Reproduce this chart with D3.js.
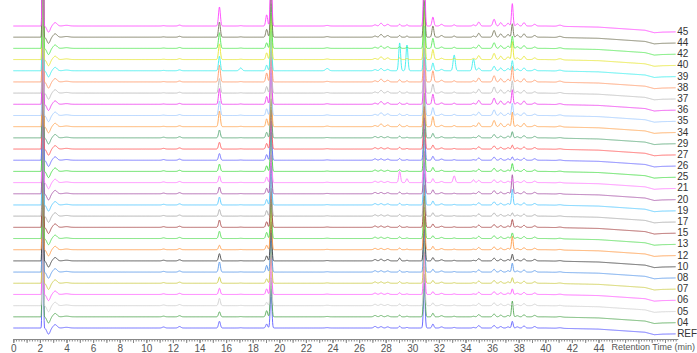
<!DOCTYPE html>
<html>
<head>
<meta charset="utf-8">
<script src="https://cdn.jsdelivr.net/npm/d3@7"></script>
<style>
  html, body { margin: 0; padding: 0; background: #fff; }
  svg { display: block; font-family: 'Liberation Sans', Arial, sans-serif; }
</style>
</head>
<body>
<div id="chart"></div>
<script>
// ── Data ──
// samples, top to bottom
var sampleLabels = ['45', '44', '42', '40', '39', '38', '37', '36', '35', '34', '29', '27', '26', '25',
  '21', '20', '19', '17', '15', '13', '12', '10', '08', '07', '06', '05', '04', 'REF'];
var sampleColors = ['#ff44ff', '#76765a', '#55e855', '#e6e633', '#3ceeee', '#ff9a6a', '#bdbdbd', '#ee3dee',
  '#9fcaff', '#ffa552', '#5aa878', '#ff5a5a', '#6a6aff', '#44dd44', '#ff7aff', '#a856a8', '#55c8ff',
  '#aaaaaa', '#a84848', '#55dd55', '#ff9a45', '#444444', '#5a98ea', '#cccc48', '#ff5aff', '#cfcfcf',
  '#55a855', '#5a5aff'];

// solvent front, identical in every run: time (min), height (mAU), sigma (min)
var frontTimes = [2.22, 2.65, 3.15, 4.0];
var frontHeights = [400, -5.5, 3, 0.6];
var frontWidths = [0.035, 0.12, 0.14, 0.2];

// sample peaks: retention time (min) and sigma (min)
var peakTimes = [11.3, 12.5, 15.5, 17.1, 19.05, 19.38, 23.6, 27.2, 27.65, 28.15, 29.05, 29.6, 30.9,
  31.55, 32.2, 33.15, 34.6, 35.0, 36.15, 36.65, 37.2, 37.52, 37.9, 38.4, 39.2, 41.1];
var peakWidths = [0.1, 0.1, 0.07, 0.1, 0.07, 0.06, 0.12, 0.1, 0.1, 0.1, 0.07, 0.07, 0.06,
  0.07, 0.1, 0.08, 0.08, 0.09, 0.09, 0.09, 0.09, 0.06, 0.09, 0.09, 0.1, 0.15];

// peak heights (mAU), one row per sample in sampleLabels order
var peakHeights = [
  [0.3, 0.8, 17, 0.3, 10, 60, 0.5, 1, 2.5, 1.5, 1.5, 1, 60, 8, 1.5, 1, 1, 3.5, 6, 3, 2.5, 20, 2, 3, 1.5, 1],
  [0.3, 0.8, 13.5, 0.3, 7, 45, 0.5, 1, 2.5, 1.5, 1.5, 1, 45, 10, 1.5, 1, 1, 3.5, 6, 3, 2.5, 12, 2, 3, 1.5, 1],
  [0.3, 0.8, 14, 0.3, 5, 40, 0.5, 1, 2, 1.5, 1.5, 1, 42, 9, 1.2, 1, 1, 3, 5, 2.5, 2, 11, 1.5, 2.5, 1.2, 0.8],
  [0.3, 0.8, 14, 0.3, 6, 40, 0.5, 1, 2.5, 1.5, 1.5, 1, 44, 9, 1.2, 1, 1, 3.5, 5.5, 3, 2.5, 16, 1.5, 3, 1.5, 1],
  [0.3, 0.8, 13, 2.5, 5, 38, 2, 1, 2, 1.2, 25, 23, 40, 7, 1.2, 14, 10.5, 2.5, 4, 2.5, 2, 9, 1.5, 2.5, 1.2, 0.8],
  [0.3, 0.8, 15, 0.3, 8, 45, 0.5, 1, 2.5, 1.5, 2, 1, 45, 10, 1.5, 1, 1, 3.5, 5.5, 3, 2.5, 14, 1.5, 3, 1.5, 1],
  [0.3, 0.8, 13, 0.3, 6, 38, 0.5, 1, 2.5, 1.5, 1.5, 1, 40, 8, 1.2, 1, 1, 3.5, 5.5, 3, 2.5, 11, 1.5, 2.5, 1.2, 0.8],
  [0.3, 0.8, 14, 0.3, 7, 42, 0.5, 1, 2.5, 1.5, 1.5, 1, 42, 9, 1.2, 1, 1, 3.5, 5.5, 3, 2.5, 13, 1.5, 3, 1.2, 0.8],
  [0.3, 0.8, 13, 0.3, 6, 38, 0.5, 1, 2.5, 1.5, 1.5, 1, 40, 7, 1.2, 1, 1, 3, 5, 2.5, 2, 11, 1.5, 2.5, 1.2, 0.8],
  [0.3, 0.8, 14, 0.3, 7, 42, 0.5, 1, 2.5, 1.5, 2, 1, 42, 9, 1.2, 1, 1, 3.5, 5.5, 3, 2.5, 13, 1.5, 3, 1.2, 0.8],
  [0.6, 1, 7, 0.2, 5, 35, 0.3, 1.2, 1.2, 1, 1.5, 0.5, 40, 4, 1, 0.5, 0.5, 2, 3, 1.5, 1.5, 5.5, 1, 2, 1.3, 0.5],
  [0.6, 1, 6, 0.2, 5, 35, 0.3, 1.2, 1.2, 1, 1.5, 0.5, 38, 3.5, 1, 0.5, 0.5, 2, 2.8, 1.5, 1.2, 3.5, 1, 1.8, 1.3, 0.5],
  [0.6, 1, 6, 0.2, 5, 35, 0.3, 1.2, 1.2, 1, 1.5, 0.5, 38, 3.5, 1, 0.5, 0.5, 2, 2.8, 1.5, 1.2, 3, 1, 1.8, 1.3, 0.5],
  [0.6, 1, 6.5, 0.2, 5, 35, 0.3, 1.2, 1.2, 1, 1.5, 0.5, 38, 3.5, 1, 0.5, 0.5, 2, 2.8, 1.5, 1.2, 7, 1, 1.8, 1.3, 0.5],
  [0.6, 1, 6, 0.2, 5, 35, 0.3, 1.2, 1.2, 1, 10, 3.5, 38, 3.5, 1, 6, 2.5, 2, 2.5, 1.5, 1.2, 3, 1, 1.8, 1.3, 0.5],
  [0.6, 1, 6, 0.2, 5, 35, 0.3, 1.2, 1.2, 1, 1.5, 0.5, 38, 3.5, 1, 0.5, 0.5, 2, 2.8, 1.5, 1.2, 17, 1, 1.8, 1.3, 0.5],
  [0.6, 1, 7, 0.2, 5, 35, 0.3, 1.2, 1.2, 1, 1.5, 0.5, 38, 3.5, 1, 0.5, 0.5, 2, 2.8, 1.5, 1.2, 14, 1, 1.8, 1.3, 0.5],
  [0.6, 1, 6, 0.2, 5, 35, 0.3, 1.2, 1.2, 1, 1.5, 0.5, 38, 3, 1, 0.5, 0.5, 2, 2.8, 1.5, 1.2, 3, 1, 1.8, 1.3, 0.5],
  [0.6, 1, 6.5, 0.2, 5, 35, 0.3, 1.2, 1.2, 1, 1.5, 0.5, 38, 3, 1, 0.5, 0.5, 2, 2.5, 1.5, 1.2, 7, 1, 1.8, 1.3, 0.5],
  [0.6, 1, 6.5, 0.2, 5.5, 35, 0.3, 1.2, 1.2, 1, 1.5, 0.5, 38, 2.5, 1, 0.5, 0.5, 2, 2.5, 1.5, 1.2, 5, 1, 1.8, 1.3, 0.5],
  [0.6, 1, 4, 0.2, 4, 35, 0.3, 1.2, 1.2, 1, 1.5, 0.5, 38, 3, 1, 0.5, 0.5, 2, 2.5, 1.5, 1.2, 12, 1, 1.8, 1.3, 0.5],
  [0.6, 1, 6.5, 0.2, 4.5, 35, 0.3, 1.2, 1.5, 1.2, 2.5, 0.5, 40, 3, 1, 0.5, 0.5, 2, 2.5, 1.5, 1.2, 6, 1, 1.8, 1.3, 0.5],
  [0.6, 1, 9, 0.2, 6, 35, 0.3, 1.2, 1.2, 1, 1.5, 0.5, 38, 2.5, 1, 0.5, 0.5, 2, 2.5, 1.5, 1.2, 8, 1, 1.8, 1.3, 0.5],
  [0.6, 1, 5.5, 0.2, 4, 35, 0.3, 1.2, 1.2, 1, 1.5, 0.5, 38, 2.5, 1, 0.5, 0.5, 2, 2.5, 1.5, 1.2, 5, 1, 1.8, 1.3, 0.5],
  [0.6, 1, 5.5, 0.2, 5, 35, 0.3, 1.2, 1.2, 1, 1.5, 0.5, 38, 2.5, 1, 0.5, 0.5, 2, 2.5, 1.5, 1.2, 5, 1, 1.8, 1.3, 0.5],
  [0.6, 1, 6.5, 0.2, 3, 30, 0.3, 1.2, 1.2, 1, 1.5, 0.5, 35, 2.5, 1, 0.5, 0.5, 2, 2.5, 1.5, 1.2, 1.5, 1, 1.8, 1.3, 0.5],
  [0.6, 1, 4.5, 0.2, 5.5, 35, 0.3, 1.2, 1.2, 1, 1.5, 0.5, 38, 3.2, 1, 0.5, 0.5, 2, 2.5, 1.5, 1.2, 14, 1, 1.8, 1.3, 0.5],
  [0.9, 1.3, 6, 0.2, 3.5, 35, 0.3, 1.4, 1.2, 1, 1.5, 0.5, 40, 3.5, 1, 0.5, 0.5, 2.2, 2.3, 1.3, 1, 6, 1, 1.8, 1.3, 0.5]
];

// baseline drift at the end of the gradient (mAU)
var driftTimes = [0, 40, 44, 47.5, 48.2, 48.8, 50];
var driftValues = [0, 0, -1, -3.8, -6, -5.5, -5.2];

var xTickLabels = d3.range(0, 45, 2);
var OFFSET_STEP = 10;   // mAU between stacked runs
var RUN_END = 49.8;
var STEP = 0.02;

// ── Layout ──
var W = 697, H = 353;
var AXIS_Y = 339;

var svg = d3.select('#chart').append('svg')
  .attr('width', W).attr('height', H);

var x = d3.scaleLinear().domain([0, 50]).range([13.3, 678.3]);
var y = d3.scaleLinear().domain([0, OFFSET_STEP * (sampleLabels.length - 1)]).range([328, 26]);
var drift = d3.scaleLinear().domain(driftTimes).range(driftValues);

function gauss(t, mu, s) {
  var z = (t - mu) / s;
  return Math.exp(-0.5 * z * z);
}

function signalAt(t, row) {
  var v = drift(t);
  for (var k = 0; k < frontTimes.length; k++) v += frontHeights[k] * gauss(t, frontTimes[k], frontWidths[k]);
  for (var j = 0; j < peakTimes.length; j++) v += row[j] * gauss(t, peakTimes[j], peakWidths[j]);
  return v;
}

var times = d3.range(0, RUN_END + STEP / 2, STEP);

var line = d3.line()
  .x(function (d) { return x(d.t); })
  .y(function (d) { return y(d.v); });

svg.append('clipPath').attr('id', 'plot-clip')
  .append('rect').attr('x', 0).attr('y', 0).attr('width', W).attr('height', AXIS_Y - 2);

var traces = sampleLabels.map(function (label, i) {
  var offset = OFFSET_STEP * (sampleLabels.length - 1 - i);
  var row = peakHeights[i];
  return {
    label: label,
    color: sampleColors[i],
    offset: offset,
    points: times.map(function (t) { return { t: t, v: offset + signalAt(t, row) }; })
  };
});

// draw bottom run first so upper runs sit on top
svg.append('g').attr('clip-path', 'url(#plot-clip)')
  .selectAll('path')
  .data(traces.slice().reverse())
  .join('path')
  .attr('d', function (d) { return line(d.points); })
  .attr('fill', 'none')
  .attr('stroke', function (d) { return d.color; })
  .attr('stroke-width', 0.9)
  .attr('stroke-linejoin', 'round');

// run labels at the right end
svg.append('g')
  .selectAll('text')
  .data(traces)
  .join('text')
  .attr('x', x(RUN_END) + 1.5)
  .attr('y', function (d) { return y(d.offset + drift(RUN_END)) - 0.5; })
  .attr('dominant-baseline', 'central')
  .attr('font-size', 10)
  .attr('fill', '#333')
  .text(function (d) { return d.label; });

// ── Axis ──
var axisG = svg.append('g').attr('transform', 'translate(0,' + AXIS_Y + ')');

axisG.append('g')
  .call(d3.axisBottom(x).tickValues(d3.range(0, 49.9, 0.2)).tickSize(2.5).tickFormat(''))
  .call(function (g) { g.select('.domain').remove(); });

axisG.append('g')
  .call(d3.axisBottom(x).tickValues(d3.range(0, 50, 1)).tickSize(4).tickFormat(''))
  .call(function (g) { g.select('.domain').remove(); });

var major = axisG.append('g')
  .call(d3.axisBottom(x).tickValues(xTickLabels).tickSize(4).tickPadding(2));
major.select('.domain').attr('d', 'M' + x(0) + ',0.5H' + x(50));
major.selectAll('text').attr('font-size', 10).attr('fill', '#555')
  .attr('font-family', "'Liberation Sans', Arial, sans-serif");
axisG.selectAll('line, .domain').attr('stroke', '#888');

svg.append('text')
  .attr('x', W - 2)
  .attr('y', AXIS_Y + 8)
  .attr('text-anchor', 'end')
  .attr('dominant-baseline', 'central')
  .attr('font-size', 9)
  .attr('fill', '#555')
  .text('Retention Time (min)');
</script>
</body>
</html>
